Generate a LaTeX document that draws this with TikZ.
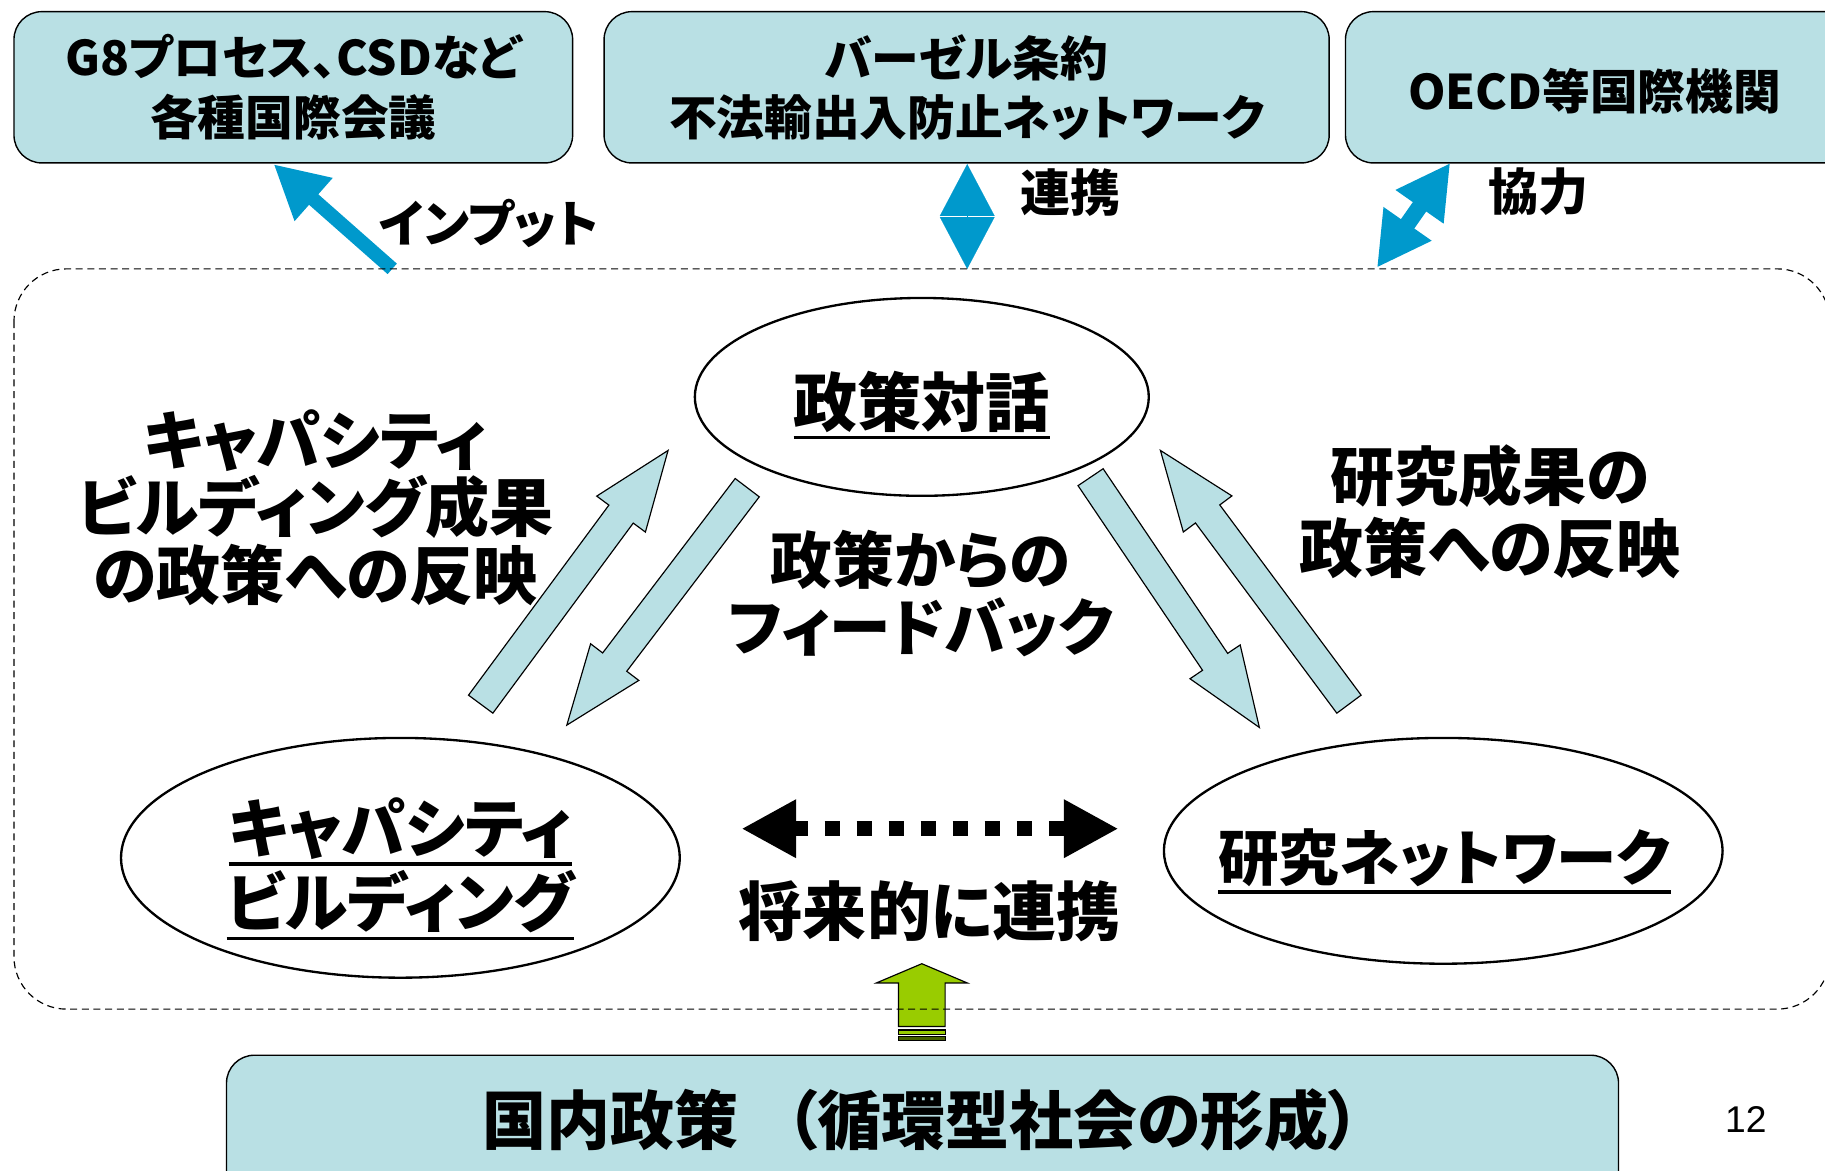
\documentclass[tikz,border=0pt]{standalone}
\usepackage{fontspec}
\setmainfont{Noto Sans CJK JP}[RawFeature=+palt]
\newfontfamily\pagefont{Liberation Sans}
\usetikzlibrary{calc,shapes.geometric,arrows.meta}

\definecolor{boxblue}{RGB}{185,224,228}
\definecolor{linkblue}{RGB}{0,153,204}
\definecolor{leafgreen}{RGB}{153,204,0}
\definecolor{darkleaf}{RGB}{70,95,0}

% outlined block arrow: [style]{tail}{tip}{half shaft}{half head}{head length}
\newcommand{\blockarrow}[6][]{%
  \coordinate (ba-h) at ($(#3)!#6!(#2)$);
  \draw[#1] ($(#2)!#4!90:(#3)$) -- ($(ba-h)!#4!90:(#3)$) -- ($(ba-h)!#5!90:(#3)$) -- (#3)
    -- ($(ba-h)!#5!-90:(#3)$) -- ($(ba-h)!#4!-90:(#3)$) -- ($(#2)!#4!-90:(#3)$) -- cycle;}

\tikzset{
  topbox/.style={draw, line width=1.2pt, fill=boxblue, rounded corners=24pt, align=center,
    font=\fontsize{41}{51}\selectfont\bfseries},
  topic/.style={draw, line width=2pt, ellipse, inner sep=0pt},
  bigtext/.style={align=center, inner sep=0pt, font=\fontsize{55}{58}\selectfont\bfseries},
  linktext/.style={inner sep=0pt, font=\fontsize{43}{48}\selectfont\bfseries},
  flowarrow/.style={draw=black, line width=1pt, fill=boxblue, line join=miter},
  linkarrow/.style={linkblue, line width=#1},
  underbar/.style={line width=3pt},
}

\begin{document}
\begin{tikzpicture}[x=1pt, y=-1pt]
    \useasboundingbox (0,0) rectangle (1568,1006);

    % outside bodies
    \node[topbox, minimum width=480pt, minimum height=130pt] (summit) at (252,75) {G8プロセス、CSDなど\\各種国際会議};
    \node[topbox, minimum width=623pt, minimum height=130pt] (basel) at (830.5,75) {バーゼル条約\\不法輸出入防止ネットワーク};
    \node[topbox, minimum width=440pt, minimum height=130pt] (oecd) at (1376,75) {};
    \node[linktext, font=\fontsize{41}{51}\selectfont\bfseries] (oecd-t) at (1370,78) {OECD等国際機関};

    % links to the outside
    \coordinate (input-from) at (337,231);
    \coordinate (input-to) at (235,141);
    \draw[linkarrow=12pt, -{Triangle[length=46pt, width=46pt]}] (input-from) -- (input-to);
    \node[linktext] (input-t) at (420,192) {インプット};

    \coordinate (basel-a) at (831,231);
    \coordinate (basel-b) at (831,141);
    \draw[linkarrow=0.1pt, {Triangle[length=44.5pt, width=47pt]}-{Triangle[length=44.5pt, width=47pt]}] (basel-a) -- (basel-b);
    \node[linktext] (basel-t) at (920,165) {連携};

    \coordinate (oecd-a) at (1183,230);
    \coordinate (oecd-b) at (1246,140);
    \draw[linkarrow=14pt, {Triangle[length=46pt, width=47pt]}-{Triangle[length=46pt, width=47pt]}] (oecd-a) -- (oecd-b);
    \node[linktext] (oecd-l) at (1322,165) {協力};

    % domestic policy
    \node[topbox, minimum width=1196pt, minimum height=140pt, anchor=north west] (home) at (194,906) {};
    \node[bigtext] (home-t) at (792,962) {国内政策\hspace{40pt}（循環型社会の形成）};
    \node[font=\pagefont\fontsize{32}{36}\selectfont] (page) at (1500,962) {12};

    \coordinate (home-out) at (792,882);
    \coordinate (home-tip) at (792,828);
    \draw[black, line width=1pt, fill=leafgreen] (772,882) -- (772,844.5) -- (753,844.5) -- (home-tip)
      -- (831,844.5) -- (812,844.5) -- (812,882) -- cycle;
    \draw[black, line width=1pt, fill=leafgreen] (772,885) rectangle (812,888.5);
    \draw[black, line width=1pt, fill=darkleaf] (772,890.5) rectangle (812,894);

    % the partnership
    \draw[line width=1pt, dash pattern=on 6pt off 4pt, rounded corners=45pt] (12,231) rectangle (1572,867);

    \node[topic, minimum width=390pt, minimum height=170pt] (dialog) at (792,341) {};
    \node[topic, minimum width=480pt, minimum height=206pt] (capacity) at (344,737) {};
    \node[topic, minimum width=480pt, minimum height=194pt] (research) at (1240,731) {};

    \node[bigtext] (dialog-t) at (792,345) {政策対話};
    \node[bigtext] (capacity-t1) at (344,712) {キャパシティ};
    \node[bigtext] (capacity-t2) at (344,775) {ビルディング};
    \node[bigtext, font=\fontsize{52}{58}\selectfont\bfseries] (research-t) at (1241,737) {研究ネットワーク};
    \foreach \t in {dialog-t, capacity-t1, capacity-t2, research-t}
      \draw[underbar] ([yshift=-10pt]\t.base west) -- ([yshift=-10pt]\t.base east);

    % flows between the three
    \coordinate (cap-out) at (413,605);
    \coordinate (dia-in) at (574,387);
    \coordinate (dia-out) at (642,419);
    \coordinate (cap-in) at (487,623);
    \coordinate (dia-out2) at (937,410);
    \coordinate (res-in) at (1082,625);
    \coordinate (res-out) at (1159,605);
    \coordinate (dia-in2) at (997,387);
    \blockarrow[flowarrow]{cap-out}{dia-in}{13pt}{26pt}{68pt}
    \blockarrow[flowarrow]{dia-out}{cap-in}{13pt}{26pt}{68pt}
    \blockarrow[flowarrow]{dia-out2}{res-in}{13pt}{26pt}{68pt}
    \blockarrow[flowarrow]{res-out}{dia-in2}{13pt}{26pt}{68pt}

    \node[bigtext] (cap-l) at (271,436) {キャパシティ\\ビルディング成果\\の政策への反映};
    \node[bigtext, font=\fontsize{53}{58}\selectfont\bfseries] (dia-l) at (791,510) {政策からの\\フィードバック};
    \node[bigtext, font=\fontsize{55}{62}\selectfont\bfseries] (res-l) at (1280,440) {研究成果の\\政策への反映};

    % future link
    \coordinate (future-l) at (637,712);
    \coordinate (future-r) at (961,712);
    \draw[line width=13pt, dash pattern=on 13.5pt off 14pt, {Triangle[length=47pt, width=47pt]}-{Triangle[length=47pt, width=47pt]}] (future-l) -- (future-r);
    \node[bigtext] (future-t) at (799,783) {将来的に連携};
\end{tikzpicture}
\end{document}
